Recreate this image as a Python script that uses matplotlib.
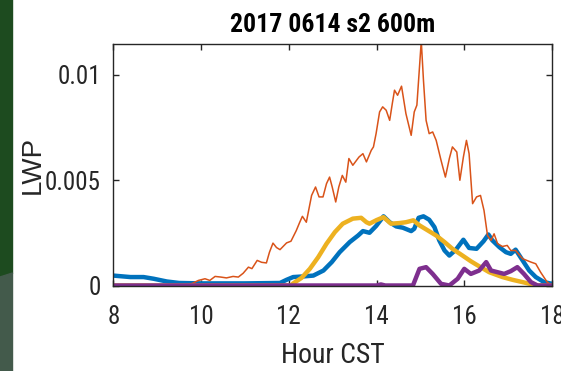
import matplotlib
matplotlib.use("Agg")
import matplotlib.pyplot as plt
from matplotlib.patches import Polygon

# LWP time series, 2017-06-14, s2 at 600 m (hour CST vs. LWP)
blue_hours = [8.0, 8.39, 8.69, 8.92, 9.22, 9.5, 10.0, 11.0, 11.8, 11.95, 12.1, 12.33,
              12.56, 12.79, 12.98, 13.16, 13.39, 13.58, 13.69, 13.84, 13.99, 14.16,
              14.3, 14.45, 14.6, 14.79, 14.86, 14.96, 15.07, 15.2, 15.32, 15.43,
              15.55, 15.66, 15.81, 15.98, 16.11, 16.28, 16.44, 16.55, 16.64, 16.8,
              16.95, 17.06, 17.17, 17.33, 17.48, 17.63, 17.82, 18.0]
blue_lwp = [0.00047, 0.0004, 0.0004, 0.00032, 0.00019, 0.00012, 0.0001, 0.0001,
            0.00012, 0.00027, 0.0004, 0.00043, 0.00047, 0.00071, 0.00111, 0.00158,
            0.00206, 0.00237, 0.00258, 0.0025, 0.00282, 0.00328, 0.003, 0.0028,
            0.00274, 0.00258, 0.00269, 0.00321, 0.00328, 0.00312, 0.00277, 0.00214,
            0.00166, 0.00142, 0.0017, 0.00217, 0.00178, 0.00174, 0.0021, 0.00242,
            0.00214, 0.00182, 0.00158, 0.0015, 0.0017, 0.00119, 0.00071, 0.0004,
            0.00016, 0.00008]

orange_hours = [8.0, 9.0, 9.6, 9.8, 9.94, 10.09, 10.2, 10.32, 10.45, 10.58, 10.73,
                10.85, 10.96, 11.08, 11.16, 11.28, 11.38, 11.49, 11.56, 11.64, 11.72,
                11.8, 11.95, 12.05, 12.17, 12.25, 12.31, 12.4, 12.52, 12.61, 12.69,
                12.78, 12.86, 12.93, 12.99, 13.07, 13.14, 13.22, 13.3, 13.37, 13.46,
                13.6, 13.69, 13.77, 13.88, 13.93, 13.99, 14.07, 14.14, 14.22, 14.3,
                14.36, 14.41, 14.48, 14.57, 14.67, 14.79, 14.86, 14.92, 14.98, 15.02,
                15.07, 15.13, 15.2, 15.28, 15.36, 15.47, 15.57, 15.66, 15.73, 15.83,
                15.9, 15.98, 16.05, 16.11, 16.19, 16.28, 16.37, 16.45, 16.53, 16.61,
                16.68, 16.76, 16.87, 16.98, 17.06, 17.17, 17.33, 17.52, 17.63, 17.74,
                17.89, 18.0]
orange_lwp = [0.0, 0.0, 0.0, 0.0001, 0.00024, 0.00032, 0.00024, 0.00043, 0.0004,
              0.00036, 0.00043, 0.0004, 0.00058, 0.00087, 0.0008, 0.00119, 0.0011,
              0.00107, 0.00158, 0.00201, 0.0018, 0.0017, 0.00202, 0.0021, 0.0026,
              0.0030, 0.00328, 0.003, 0.00427, 0.00467, 0.0042, 0.0042, 0.00483,
              0.00514, 0.00467, 0.00396, 0.00467, 0.00522, 0.0049, 0.00602, 0.0057,
              0.00609, 0.00625, 0.00586, 0.00641, 0.00657, 0.0072, 0.00823, 0.00847,
              0.00831, 0.00783, 0.00863, 0.00926, 0.00902, 0.00945, 0.00815, 0.00712,
              0.00823, 0.00855, 0.01037, 0.0116, 0.00973, 0.00783, 0.0072, 0.00728,
              0.00688, 0.00594, 0.00514, 0.00602, 0.00657, 0.00633, 0.00499, 0.00609,
              0.00688, 0.00625, 0.00388, 0.0042, 0.00427, 0.00356, 0.00237, 0.00214,
              0.00245, 0.00198, 0.00185, 0.0019, 0.00166, 0.00166, 0.00127, 0.00111,
              0.00103, 0.00063, 0.00016, 0.0]

yellow_hours = [8.0, 12.05, 12.1, 12.29, 12.48, 12.67, 12.86, 13.05, 13.23, 13.46,
                13.65, 13.77, 13.84, 14.0, 14.16, 14.33, 14.52, 14.67, 14.84, 14.98,
                15.17, 15.36, 15.55, 15.73, 15.96, 16.15, 16.38, 16.57, 16.87, 17.1,
                17.33, 17.55, 17.7, 18.0]
yellow_lwp = [0.0, 0.0, 0.0001, 0.00036, 0.00079, 0.00134, 0.00198, 0.00253, 0.00293,
              0.00317, 0.00321, 0.003, 0.00293, 0.0031, 0.00324, 0.00293, 0.00296,
              0.003, 0.00309, 0.00285, 0.00261, 0.00237, 0.00206, 0.00174, 0.00142,
              0.00115, 0.00086, 0.00063, 0.0004, 0.00027, 0.00016, 0.00005, 0.0, 0.0]

purple_hours = [8.0, 14.0, 14.1, 14.2, 14.83, 14.98, 15.13, 15.28, 15.47, 15.66,
                15.85, 16.0, 16.15, 16.34, 16.5, 16.61, 16.76, 16.91, 17.06, 17.21,
                17.36, 17.52, 17.67, 18.0]
purple_lwp = [0.0, 0.0, 0.00005, 0.0, 0.0, 0.00079, 0.00087, 0.00055, 0.00008, 0.0,
              0.00032, 0.00079, 0.00055, 0.00071, 0.00111, 0.00071, 0.00063, 0.00055,
              0.00068, 0.00087, 0.00055, 0.00016, 0.0, 0.0]

xticks = [8, 10, 12, 14, 16, 18]
yticks = [0, 0.005, 0.01]
ytick_labels = ["0", "0.005", "0.01"]

narrow = ["Roboto Condensed", "Archivo Narrow", "Liberation Sans", "DejaVu Sans"]
plt.rcParams["font.family"] = narrow
ink = "#262626"

fig = plt.figure(figsize=(5.61, 3.71), dpi=100)
fig.patch.set_facecolor("white")

# slide edge on the left
fig.patches.append(Polygon([[0, 1], [12.5 / 561, 1], [12.5 / 561, 1 - 273 / 371],
                            [0, 1 - 277 / 371]], closed=True,
                           transform=fig.transFigure, color="#1d4b1f", zorder=0))
fig.patches.append(Polygon([[0, 0], [12.5 / 561, 0], [12.5 / 561, 1 - 273 / 371],
                            [0, 1 - 277 / 371]], closed=True,
                           transform=fig.transFigure, color="#435a4b", zorder=0))

ax = fig.add_axes([113.3 / 561, 1 - 285.5 / 371, 438.7 / 561, 241.5 / 371])

ax.plot(blue_hours, blue_lwp, color="#0072BD", lw=3.2, solid_joinstyle="round")
ax.plot(orange_hours, orange_lwp, color="#D95319", lw=1.1)
ax.plot(yellow_hours, yellow_lwp, color="#EDB120", lw=3.2, solid_joinstyle="round")
ax.plot(purple_hours, purple_lwp, color="#7E2F8E", lw=3.2, solid_joinstyle="round")

ax.set_xlim(8, 18)
ax.set_ylim(0, 0.01145)
ax.set_xticks(xticks)
ax.set_yticks(yticks)
ax.set_yticklabels(ytick_labels)

for side in ax.spines.values():
    side.set_color(ink)
    side.set_linewidth(1.0)
ax.tick_params(direction="in", length=4, width=1, color=ink, labelcolor=ink,
               top=True, right=True, labelsize=18)
ax.tick_params(axis="x", pad=14)
ax.tick_params(axis="y", pad=9)

ax.set_title("2017 0614 s2 600m", fontsize=18.5, fontweight="bold", color="black",
             pad=9)
ax.set_xlabel("Hour CST", fontsize=20, color=ink)
ax.xaxis.set_label_coords(0.5, -0.235)
ax.set_ylabel("LWP", fontsize=20, color=ink, family=["Liberation Sans", "DejaVu Sans"])
ax.yaxis.set_label_coords(-0.155, 0.5)

fig.savefig("out.png", dpi=100, facecolor="white")
